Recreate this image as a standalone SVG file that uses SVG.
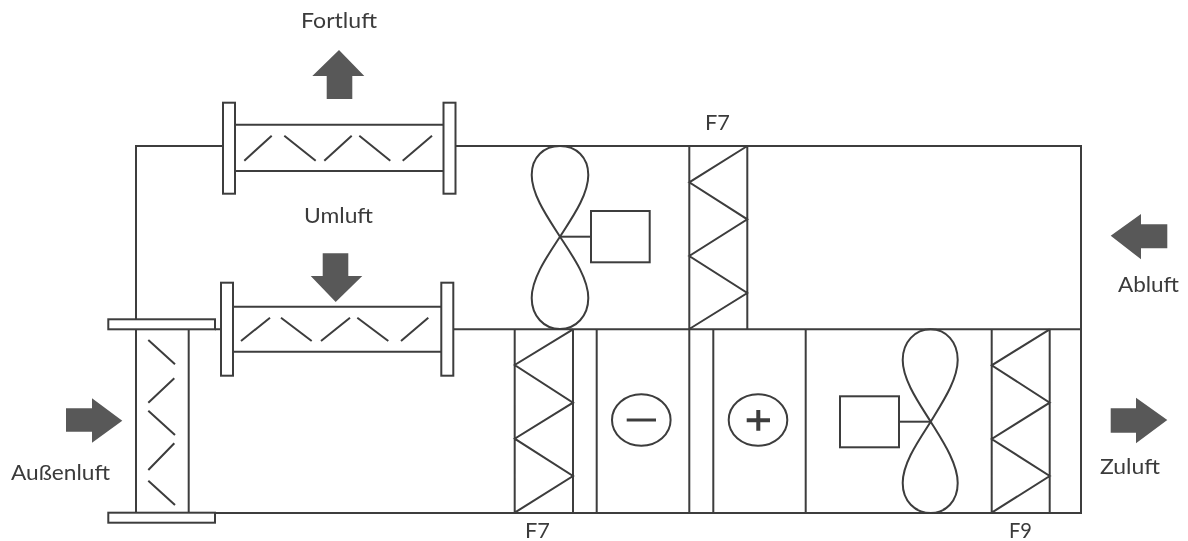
<svg xmlns="http://www.w3.org/2000/svg" width="1188" height="541" viewBox="0 0 1188 541">
<style>
.l{fill:none;stroke:#3c3c3c;stroke-width:2;stroke-linejoin:miter}
.f{fill:#fff;stroke:#3c3c3c;stroke-width:2}
.a{fill:#595959;stroke:none}
.t{font-family:Lato,"Open Sans",sans-serif;font-size:21.5px;fill:#3a3a3a}
</style>
<defs><filter id="soft" x="0" y="0" width="100%" height="100%"><feGaussianBlur stdDeviation="0.45"/></filter></defs>
<rect width="1188" height="541" fill="#fff"/>
<g filter="url(#soft)">
<g id="connectors">
<path class="l" d="M223 146H136V319.5M455 146H1081V513H189M453 329.3H1081M215 329.3H221"/>
<path class="l" d="M136 329V513M188.7 329V513"/>
</g>
<g id="damper-fortluft">
<path class="l" d="M235 124.7H443.5M235 171H443.5"/>
<rect class="f" x="223" y="102.7" width="12" height="91"/>
<rect class="f" x="443.5" y="102.7" width="12" height="91"/>
<path class="l" d="M244.3 160.7L271.7 135.7M284.3 135.7L315.7 160.7M324.3 160.7L351.7 135.7M359.3 135.7L390.3 160.7M402.7 160.7L432 135.7"/>
</g>
<g id="damper-umluft">
<path class="l" d="M233 306.7H441.3M233 351.7H441.3"/>
<rect class="f" x="221" y="282.7" width="12" height="93"/>
<rect class="f" x="441.3" y="282.7" width="12" height="93"/>
<path class="l" d="M241 341L270 317.7M281 317.7L311.7 341M321 341L350 317.7M357.3 317.7L388.3 341M401 341L428.3 317.7"/>
</g>
<g id="damper-aussenluft">
<rect class="f" x="108.3" y="319.3" width="106.7" height="10"/>
<rect class="f" x="108.3" y="512.7" width="106.7" height="10"/>
<path class="l" d="M148.3 340L175 364.3M174.3 378.3L148.3 402.7M148.3 410.7L175 435M174.3 443.3L148.3 470M148.3 480.7L175 505"/>
</g>
<g id="fan-abluft">
<path class="l" d="M560 236.7C548 218 531.7 195 531.7 175C531.7 157 544 146 560 146C576 146 588.3 157 588.3 175C588.3 195 572 218 560 236.7C548 255 531.7 278 531.7 298C531.7 316 544 329 560 329C576 329 588.3 316 588.3 298C588.3 278 572 255 560 236.7Z"/>
<path class="l" d="M560 236.7H591"/>
<rect class="l" x="591" y="211" width="58.7" height="51.3"/>
</g>
<g id="filter-f7-oben">
<path class="l" d="M689.3 146V329M747.3 146V329M747.3 146L689.3 182.3L747.3 219.3L689.3 256L747.3 293L689.3 329"/>
</g>
<g id="filter-f7-unten">
<path class="l" d="M514.7 329V513M573 329V513M573 329.3L514.7 365L573 402.7L514.7 438.7L573 476L514.7 512.7"/>
</g>
<g id="kuehler">
<path class="l" d="M596.7 329V513M689.3 329V513"/>
<ellipse class="l" cx="641.3" cy="420" rx="29.3" ry="25.7"/>
<path class="l" style="stroke-width:3" d="M626.7 420H656"/>
</g>
<g id="erhitzer">
<path class="l" d="M713.3 329V513M805.7 329V513"/>
<ellipse class="l" cx="758" cy="420" rx="29.3" ry="25.7"/>
<path class="l" style="stroke-width:4" d="M746.7 420.3H770M758.3 410V430.7"/>
</g>
<g id="fan-zuluft">
<path class="l" d="M930.7 421.7C919 403 902.7 380 902.7 360C902.7 342 915 329.3 930.7 329.3C946 329.3 957.7 342 957.7 360C957.7 380 942 403 930.7 421.7C919 440 902.7 463 902.7 483C902.7 501 915 513 930.7 513C946 513 957.7 501 957.7 483C957.7 463 942 440 930.7 421.7Z"/>
<path class="l" d="M899 421.7H930.7"/>
<rect class="l" x="840" y="396.3" width="59" height="51"/>
</g>
<g id="filter-f9">
<path class="l" d="M991.7 329V513M1049.7 329V513M1049.7 329.3L991.7 365.3L1049.7 402.7L991.7 439L1049.7 476L991.7 512.7"/>
</g>
<g id="arrow-fortluft"><path class="a" d="M339 50L364.3 76H352.3V99H326.7V76H312.3Z"/></g>
<g id="arrow-umluft"><path class="a" d="M322.7 253.3H348.3V276H362.3L335.7 302L310.7 276H322.7Z"/></g>
<g id="arrow-aussenluft"><path class="a" d="M66 408.3H92V398.3L122.3 420.7L92 442.7V431.7H66Z"/></g>
<g id="arrow-abluft"><path class="a" d="M1110.7 235.7L1141 214V224.3H1167.3V248.3H1141V259.3Z"/></g>
<g id="arrow-zuluft"><path class="a" d="M1110.7 408.3H1136V397.7L1167.3 420L1136 443.3V432.7H1110.7Z"/></g>
<g id="labels">
<text class="t" x="301" y="28.3" textLength="76" lengthAdjust="spacingAndGlyphs">Fortluft</text>
<text class="t" x="304" y="223.3" textLength="69" lengthAdjust="spacingAndGlyphs">Umluft</text>
<text class="t" x="705" y="130" textLength="25" lengthAdjust="spacingAndGlyphs">F7</text>
<text class="t" x="1118" y="291.7" textLength="61" lengthAdjust="spacingAndGlyphs">Abluft</text>
<text class="t" x="11" y="480" textLength="99" lengthAdjust="spacingAndGlyphs">Außenluft</text>
<text class="t" x="1100" y="474.3" textLength="60" lengthAdjust="spacingAndGlyphs">Zuluft</text>
<text class="t" x="525" y="538" textLength="25" lengthAdjust="spacingAndGlyphs">F7</text>
<text class="t" x="1009" y="538" textLength="23" lengthAdjust="spacingAndGlyphs">F9</text>
</g>
</g>
</svg>
